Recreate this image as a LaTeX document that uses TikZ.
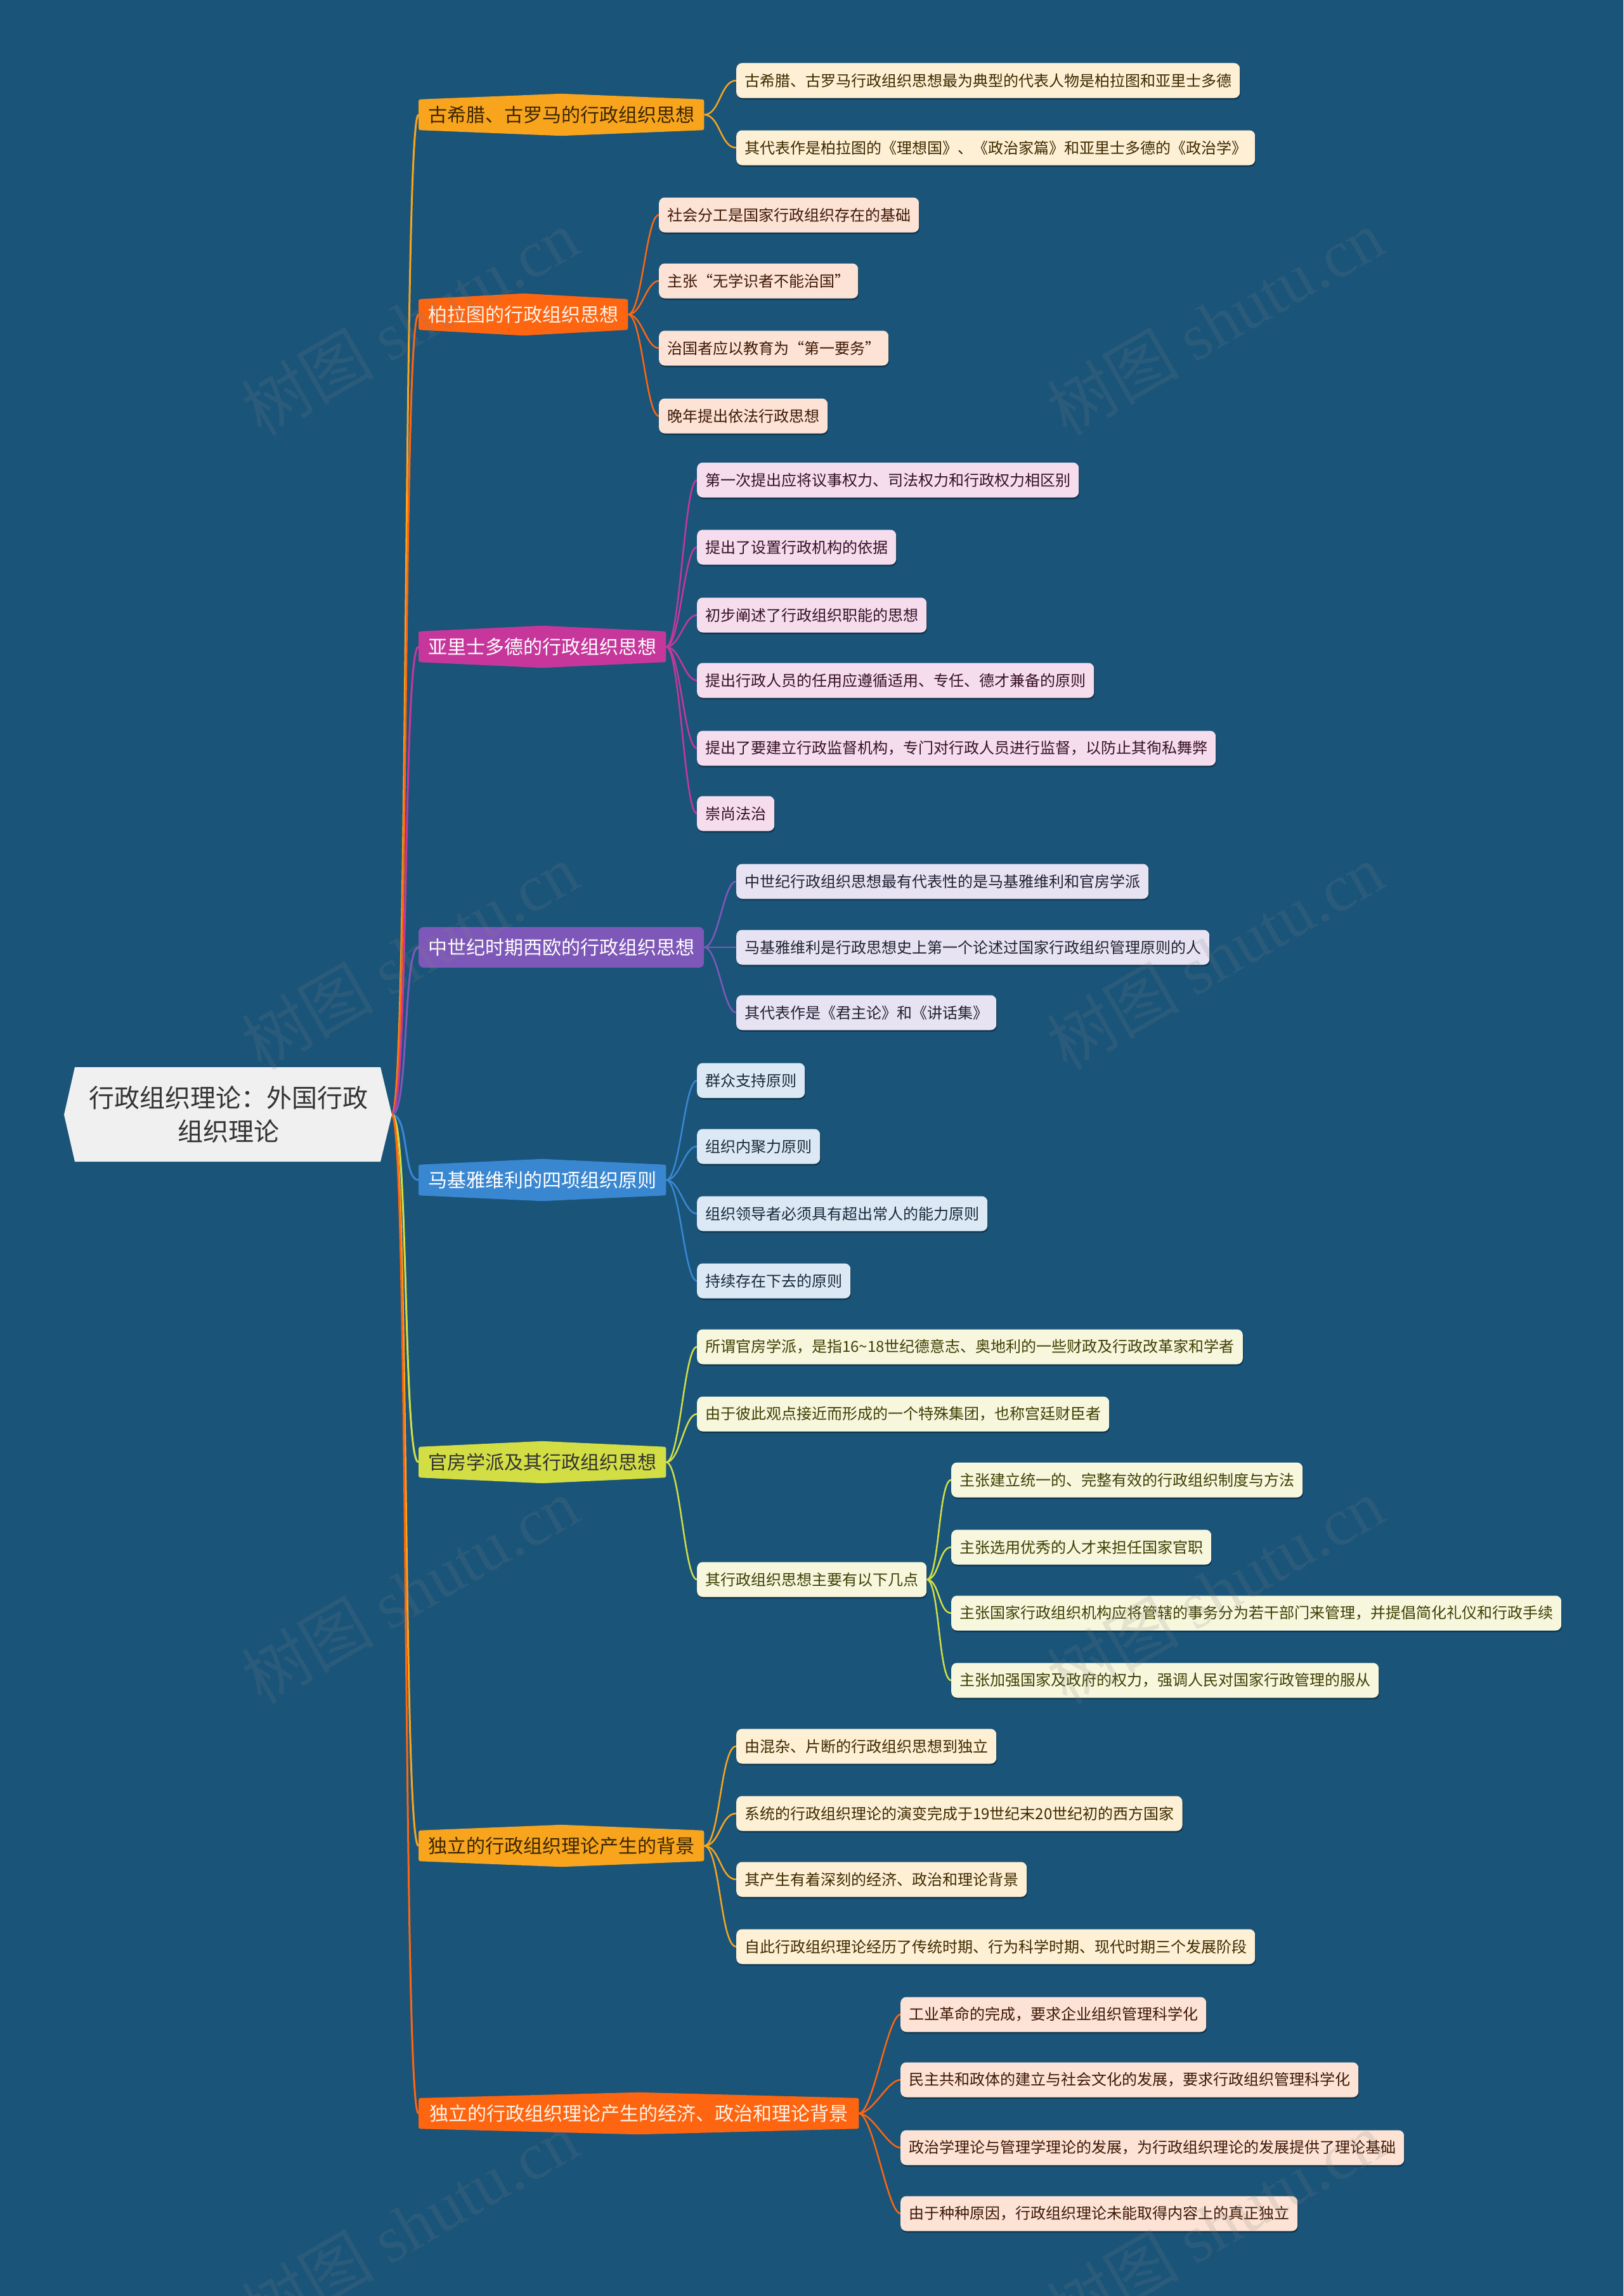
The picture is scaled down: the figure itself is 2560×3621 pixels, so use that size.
\documentclass[tikz,border=0pt]{standalone}
\usepackage{fontspec}
\setmainfont{Noto Sans CJK SC}
\newfontfamily\wmfont{Liberation Serif}
\usetikzlibrary{shadows}
\pgfdeclarelayer{bgl}
\pgfdeclarelayer{lines}
\pgfdeclarelayer{shapes}
\pgfsetlayers{bgl,lines,shapes,main}
\definecolor{bgc}{HTML}{1A5479}
\definecolor{c1}{HTML}{F8A51D}
\definecolor{c2}{HTML}{FE6510}
\definecolor{c3}{HTML}{C7379B}
\definecolor{c4}{HTML}{7E58B8}
\definecolor{c5}{HTML}{3A87D1}
\definecolor{c6}{HTML}{D3DE45}
\definecolor{l1}{HTML}{FDF0D5}
\definecolor{l2}{HTML}{FCE3D5}
\definecolor{l3}{HTML}{F6DDEE}
\definecolor{l4}{HTML}{E7E3F3}
\definecolor{l5}{HTML}{DCE9F5}
\definecolor{l6}{HTML}{F6F7DD}
\definecolor{t1}{HTML}{3F2A00}
\definecolor{t2}{HTML}{401805}
\definecolor{t3}{HTML}{351028}
\definecolor{t4}{HTML}{222233}
\definecolor{t5}{HTML}{1A2A3A}
\definecolor{t6}{HTML}{404005}
\definecolor{rootfill}{HTML}{F0F0F0}
\definecolor{roottext}{HTML}{333333}
\definecolor{brdark}{HTML}{3B2600}
\definecolor{brcream}{HTML}{FFF3E8}
\newcommand{\hexbr}[2]{%
  \fill[#2, rounded corners=3pt] (#1.north west) -- ([yshift=9pt]#1.north) -- (#1.north east) -- (#1.south east) -- ([yshift=-9pt]#1.south) -- (#1.south west) -- cycle;}
\tikzset{
  leaf/.style={anchor=west, rounded corners=9pt, minimum height=55pt, inner xsep=13pt, inner ysep=0pt,
    font=\fontsize{24}{28}\selectfont,
    drop shadow={shadow xshift=1pt, shadow yshift=-2.5pt, opacity=0.35, fill=black}},
  brtxt/.style={anchor=west, minimum height=48pt, inner xsep=15pt, inner ysep=0pt, font=\fontsize{30}{36}\selectfont},
  conn/.style={line width=2.5pt},
  trunk/.style={line width=3pt},
  wm/.style={rotate=30, text=gray, opacity=0.17, font=\fontsize{105}{120}\selectfont}
}
\begin{document}
\begin{tikzpicture}[x=1pt, y=-1pt]
\begin{pgfonlayer}{bgl}
\fill[bgc] (0,0) rectangle (2560,3621);
\end{pgfonlayer}
\useasboundingbox (0,0) rectangle (2560,3621);

% root
\node[font=\fontsize{40}{53}\selectfont, align=center, text=roottext, inner sep=0pt] (root) at (360,1758) {行政组织理论：外国行政\\组织理论};
\coordinate (rootR) at (618,1758);

% branches
\node[brtxt, text=brdark] (b1) at (660,181) {古希腊、古罗马的行政组织思想};
\node[brtxt, text=brcream] (b2) at (660,496) {柏拉图的行政组织思想};
\node[brtxt, text=white] (b3) at (660,1020) {亚里士多德的行政组织思想};
\node[brtxt, text=white, fill=c4, rounded corners=8pt, minimum height=64pt] (b4) at (660,1494) {中世纪时期西欧的行政组织思想};
\node[brtxt, text=white] (b5) at (660,1861) {马基雅维利的四项组织原则};
\node[brtxt, text=roottext] (b6) at (660,2306) {官房学派及其行政组织思想};
\node[brtxt, text=brdark] (b7) at (660,2911) {独立的行政组织理论产生的背景};
\node[brtxt, text=brcream, inner xsep=17pt] (b8) at (660,3333) {独立的行政组织理论产生的经济、政治和理论背景};

% leaves group 1
\node[leaf, fill=l1, text=t1] (l1a) at (1161,127) {古希腊、古罗马行政组织思想最为典型的代表人物是柏拉图和亚里士多德};
\node[leaf, fill=l1, text=t1] (l1b) at (1161,233) {其代表作是柏拉图的《理想国》、《政治家篇》和亚里士多德的《政治学》};
% group 2
\node[leaf, fill=l2, text=t2] (l2a) at (1039,339) {社会分工是国家行政组织存在的基础};
\node[leaf, fill=l2, text=t2] (l2b) at (1039,443) {主张“无学识者不能治国”};
\node[leaf, fill=l2, text=t2] (l2c) at (1039,549) {治国者应以教育为“第一要务”};
\node[leaf, fill=l2, text=t2] (l2d) at (1039,656) {晚年提出依法行政思想};
% group 3
\node[leaf, fill=l3, text=t3] (l3a) at (1099,757) {第一次提出应将议事权力、司法权力和行政权力相区别};
\node[leaf, fill=l3, text=t3] (l3b) at (1099,863) {提出了设置行政机构的依据};
\node[leaf, fill=l3, text=t3] (l3c) at (1099,970) {初步阐述了行政组织职能的思想};
\node[leaf, fill=l3, text=t3] (l3d) at (1099,1073) {提出行政人员的任用应遵循适用、专任、德才兼备的原则};
\node[leaf, fill=l3, text=t3] (l3e) at (1099,1180) {提出了要建立行政监督机构，专门对行政人员进行监督，以防止其徇私舞弊};
\node[leaf, fill=l3, text=t3] (l3f) at (1099,1283) {崇尚法治};
% group 4
\node[leaf, fill=l4, text=t4] (l4a) at (1161,1390) {中世纪行政组织思想最有代表性的是马基雅维利和官房学派};
\node[leaf, fill=l4, text=t4] (l4b) at (1161,1494) {马基雅维利是行政思想史上第一个论述过国家行政组织管理原则的人};
\node[leaf, fill=l4, text=t4] (l4c) at (1161,1597) {其代表作是《君主论》和《讲话集》};
% group 5
\node[leaf, fill=l5, text=t5] (l5a) at (1099,1704) {群众支持原则};
\node[leaf, fill=l5, text=t5] (l5b) at (1099,1808) {组织内聚力原则};
\node[leaf, fill=l5, text=t5] (l5c) at (1099,1914) {组织领导者必须具有超出常人的能力原则};
\node[leaf, fill=l5, text=t5] (l5d) at (1099,2020) {持续存在下去的原则};
% group 6
\node[leaf, fill=l6, text=t6] (l6a) at (1099,2124) {所谓官房学派，是指16\textasciitilde18世纪德意志、奥地利的一些财政及行政改革家和学者};
\node[leaf, fill=l6, text=t6] (l6b) at (1099,2230) {由于彼此观点接近而形成的一个特殊集团，也称宫廷财臣者};
\node[leaf, fill=l6, text=t6] (l6c) at (1099,2491) {其行政组织思想主要有以下几点};
\node[leaf, fill=l6, text=t6] (l6c1) at (1500,2334) {主张建立统一的、完整有效的行政组织制度与方法};
\node[leaf, fill=l6, text=t6] (l6c2) at (1500,2440) {主张选用优秀的人才来担任国家官职};
\node[leaf, fill=l6, text=t6] (l6c3) at (1500,2544) {主张国家行政组织机构应将管辖的事务分为若干部门来管理，并提倡简化礼仪和行政手续};
\node[leaf, fill=l6, text=t6] (l6c4) at (1500,2650) {主张加强国家及政府的权力，强调人民对国家行政管理的服从};
% group 7
\node[leaf, fill=l1, text=t1] (l7a) at (1161,2754) {由混杂、片断的行政组织思想到独立};
\node[leaf, fill=l1, text=t1] (l7b) at (1161,2860) {系统的行政组织理论的演变完成于19世纪末20世纪初的西方国家};
\node[leaf, fill=l1, text=t1] (l7c) at (1161,2964) {其产生有着深刻的经济、政治和理论背景};
\node[leaf, fill=l1, text=t1] (l7d) at (1161,3070) {自此行政组织理论经历了传统时期、行为科学时期、现代时期三个发展阶段};
% group 8
\node[leaf, fill=l2, text=t2] (l8a) at (1420,3177) {工业革命的完成，要求企业组织管理科学化};
\node[leaf, fill=l2, text=t2] (l8b) at (1420,3280) {民主共和政体的建立与社会文化的发展，要求行政组织管理科学化};
\node[leaf, fill=l2, text=t2] (l8c) at (1420,3387) {政治学理论与管理学理论的发展，为行政组织理论的发展提供了理论基础};
\node[leaf, fill=l2, text=t2] (l8d) at (1420,3491) {由于种种原因，行政组织理论未能取得内容上的真正独立};

% shapes
\begin{pgfonlayer}{shapes}
\fill[rootfill] (101,1758) -- (118,1683) -- (600,1683) -- (618,1758) -- (600,1832) -- (118,1832) -- cycle;
\hexbr{b1}{c1}
\hexbr{b2}{c2}
\hexbr{b3}{c3}
\hexbr{b5}{c5}
\hexbr{b6}{c6}
\hexbr{b7}{c1}
\hexbr{b8}{c2}
\end{pgfonlayer}

% connectors
\begin{pgfonlayer}{lines}
\foreach \b/\c in {b1/c1, b2/c2, b3/c3, b4/c4, b5/c5, b6/c6, b7/c1, b8/c2}
  \draw[trunk, \c] (rootR) .. controls +(27,0) and +(-25,0) .. (\b.west);
\foreach \l in {l1a, l1b}
  \draw[conn, c1] (b1.east) .. controls +(25,0) and +(-25,0) .. (\l.west);
\foreach \l in {l2a, l2b, l2c, l2d}
  \draw[conn, c2] (b2.east) .. controls +(22,0) and +(-20,0) .. (\l.west);
\foreach \l in {l3a, l3b, l3c, l3d, l3e, l3f}
  \draw[conn, c3] (b3.east) .. controls +(22,0) and +(-20,0) .. (\l.west);
\foreach \l in {l4a, l4b, l4c}
  \draw[conn, c4] (b4.east) .. controls +(22,0) and +(-20,0) .. (\l.west);
\foreach \l in {l5a, l5b, l5c, l5d}
  \draw[conn, c5] (b5.east) .. controls +(22,0) and +(-20,0) .. (\l.west);
\foreach \l in {l6a, l6b, l6c}
  \draw[conn, c6] (b6.east) .. controls +(22,0) and +(-20,0) .. (\l.west);
\foreach \l in {l6c1, l6c2, l6c3, l6c4}
  \draw[conn, c6] (l6c.east) .. controls +(20,0) and +(-20,0) .. (\l.west);
\foreach \l in {l7a, l7b, l7c, l7d}
  \draw[conn, c1] (b7.east) .. controls +(25,0) and +(-25,0) .. (\l.west);
\foreach \l in {l8a, l8b, l8c, l8d}
  \draw[conn, c2] (b8.east) .. controls +(22,0) and +(-20,0) .. (\l.west);
\end{pgfonlayer}

% watermarks
\foreach \wx/\wy [count=\i] in {646/508, 1916/508, 646/1508, 1916/1508, 646/2508, 1916/2508, 646/3508, 1916/3508}
  \node[wm] (wm\i) at (\wx,\wy) {树图 {\wmfont shutu.cn}};
\end{tikzpicture}
\end{document}
